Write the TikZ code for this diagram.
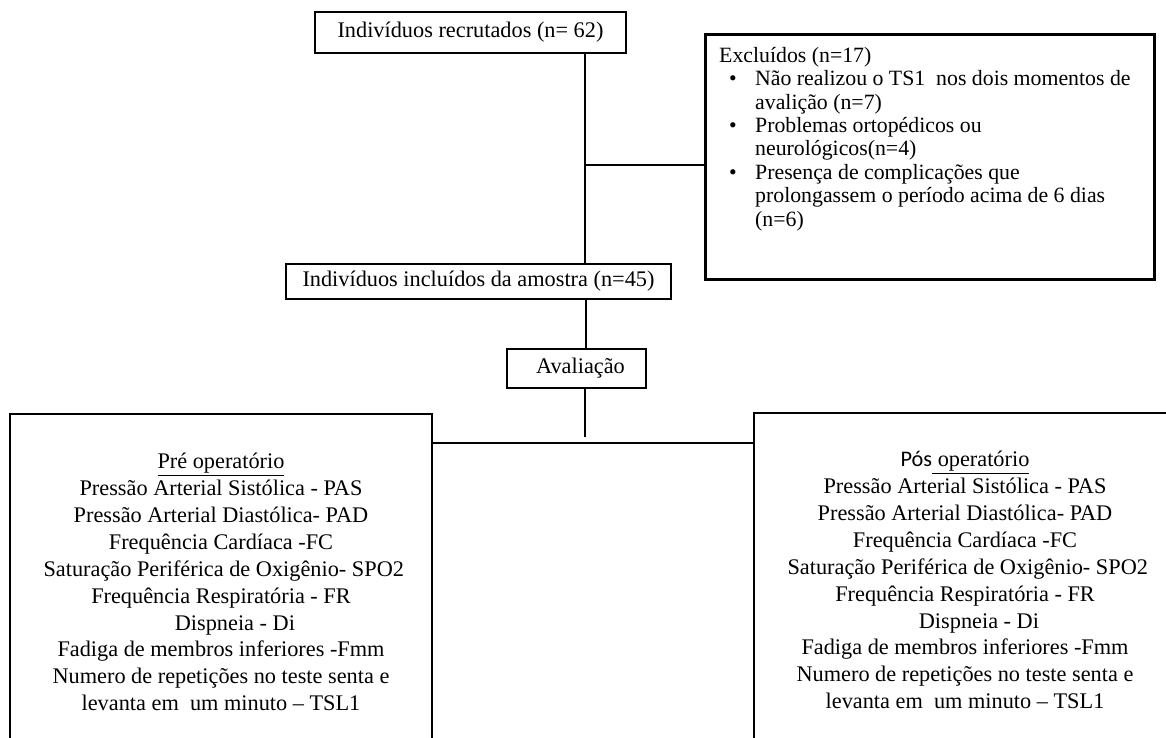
\documentclass[tikz,border=0pt]{standalone}
\usepackage{fontspec}
\setmainfont{Liberation Serif}
\newfontfamily\calib{Carlito}
\begin{document}
\begin{tikzpicture}[x=1pt,y=-1pt]
\tikzset{
  box/.style={draw, line width=2.6pt, inner sep=0pt, font=\fontsize{22.3}{26}\selectfont},
  conn/.style={line width=2.6pt},
  txt/.style={inner sep=0pt, font=\fontsize{22.3}{26.9}\selectfont, align=center},
  exctxt/.style={inner sep=0pt, font=\fontsize{21.8}{23.4}\selectfont, align=left}
}
\useasboundingbox (0,0) rectangle (1166,738);
\node[box, minimum width=311, minimum height=41] (rec) at (470.5,32.5) {Indivíduos recrutados (n= 62)};
\node[box, minimum width=449, minimum height=245, anchor=north west] (exc) at (704,33) {};
\node[exctxt, anchor=north west] (exctext) at (719,47) {Excluídos (n=17)\\
\hspace{10pt}\makebox[26pt][l]{\textbullet}Não realizou o TS1\ \ nos dois momentos de\\
\hspace{36pt}avalição (n=7)\\
\hspace{10pt}\makebox[26pt][l]{\textbullet}Problemas ortopédicos ou\\
\hspace{36pt}neurológicos(n=4)\\
\hspace{10pt}\makebox[26pt][l]{\textbullet}Presença de complicações que\\
\hspace{36pt}prolongassem o período acima de 6 dias\\
\hspace{36pt}(n=6)};
\node[box, minimum width=385, minimum height=35] (inc) at (478.5,281.5) {Indivíduos incluídos da amostra (n=45)};
\node[box, minimum width=139, minimum height=39] (aval) at (576.5,368.5) {\hspace{8pt}Avaliação};
\coordinate (c1) at (585,165);
\coordinate (c2) at (586,0);
\coordinate (aend) at (585,437);
\draw[conn] (c1 |- rec.south) -- (c1 |- inc.north);
\draw[conn] (c1) -- (c1 -| exc.west);
\draw[conn] (c2 |- inc.south) -- (c2 |- aval.north);
\draw[conn] (aval.south -| aend) -- (aend);
\coordinate (bot) at (0,738);
\coordinate (pretl) at (10,414);
\coordinate (pretr) at (432,414);
\coordinate (postl) at (754,413);
\coordinate (postr) at (1166,413);
\coordinate (hl) at (432,443);
\coordinate (hr) at (754,443);
\draw[conn] (pretl |- bot) -- (pretl) -- (pretr) -- (pretr |- bot);
\draw[conn] (postr) -- (postl) -- (postl |- bot);
\draw[conn] (hl) -- (hr);
\node[txt] (pre) at (221,582) {\underline{Pré operatório}\\
Pressão Arterial Sistólica - PAS\\
Pressão Arterial Diastólica- PAD\\
Frequência Cardíaca -FC\\
\ Saturação Periférica de Oxigênio- SPO2\\
Frequência Respiratória - FR\\
\ \ \ \ \ Dispneia - Di\\
Fadiga de membros inferiores -Fmm\\
Numero de repetições no teste senta e\\
levanta em\ \ um minuto -- TSL1};
\node[txt] (pos) at (965,580) {{\calib Pós}\underline{ operatório}\\
Pressão Arterial Sistólica - PAS\\
Pressão Arterial Diastólica- PAD\\
Frequência Cardíaca -FC\\
\ Saturação Periférica de Oxigênio- SPO2\\
Frequência Respiratória - FR\\
\ \ \ \ \ Dispneia - Di\\
Fadiga de membros inferiores -Fmm\\
Numero de repetições no teste senta e\\
levanta em\ \ um minuto -- TSL1};
\end{tikzpicture}
\end{document}
